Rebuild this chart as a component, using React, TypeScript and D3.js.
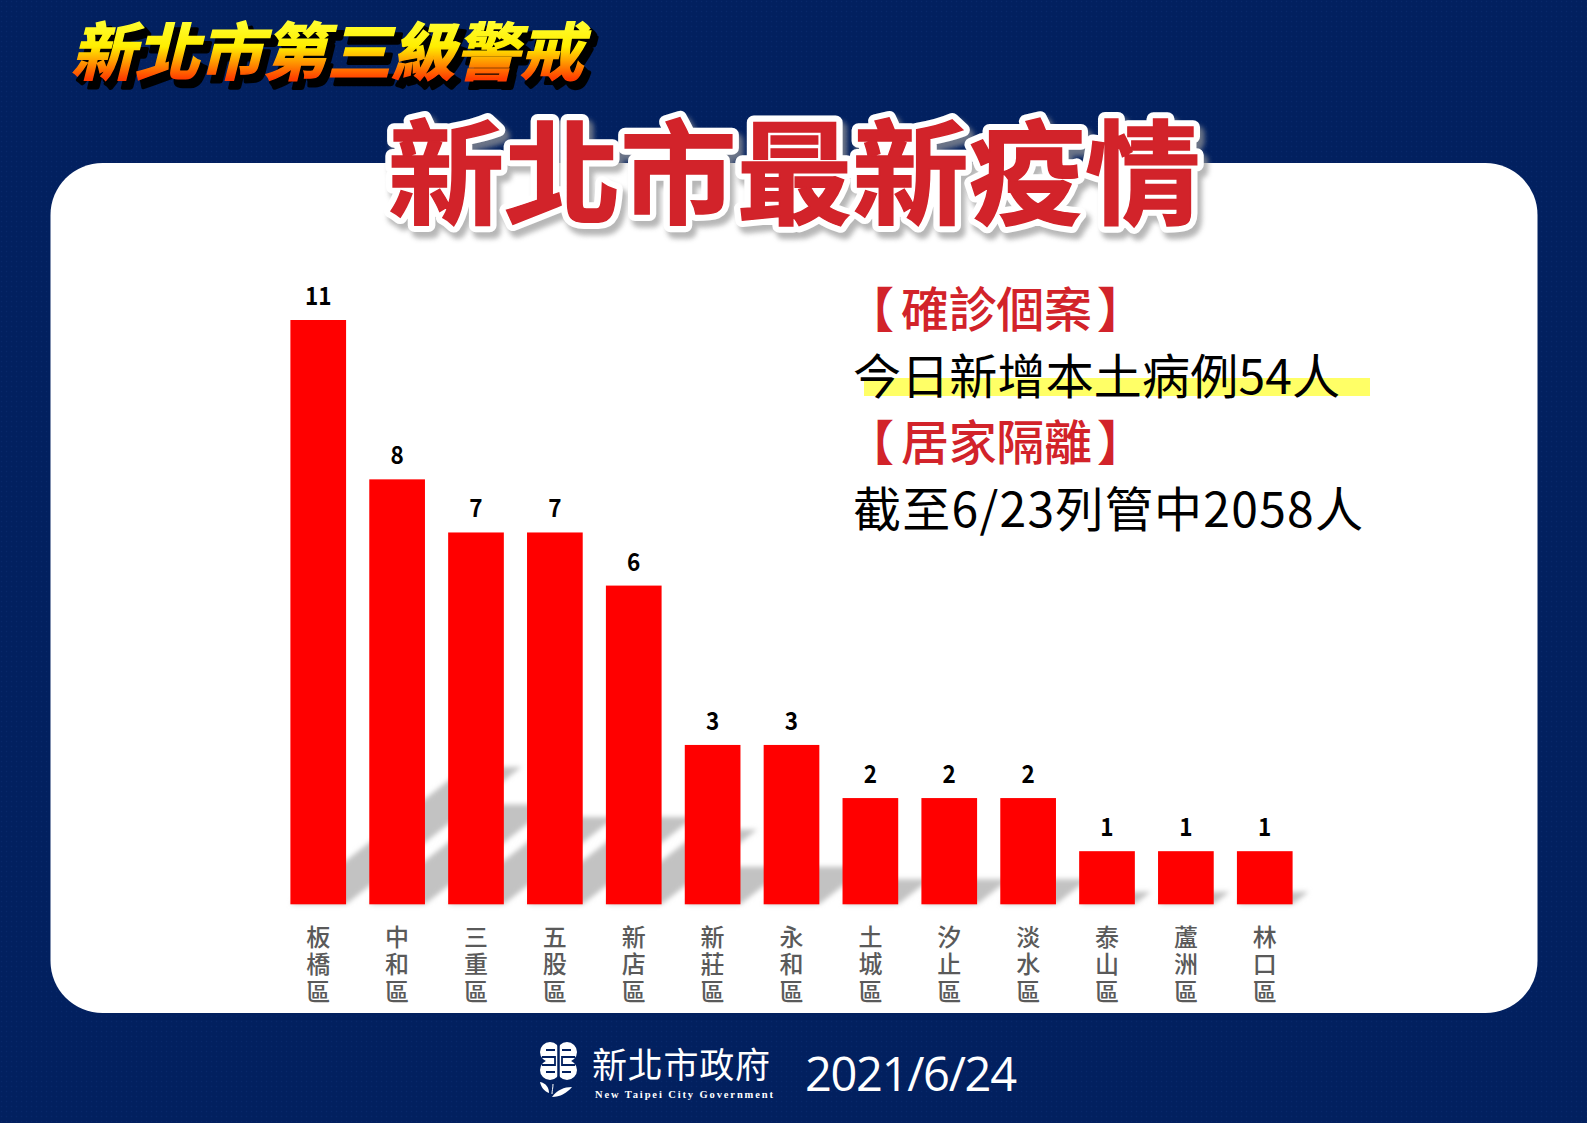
import React from "react";
import * as d3 from "d3";

const categories = ["板橋區","中和區","三重區","五股區","新店區","新莊區","永和區","土城區","汐止區","淡水區","泰山區","蘆洲區","林口區"];
const cases = [11,8,7,7,6,3,3,2,2,2,1,1,1];
const bannerTitle = "新北市第三級警戒";
const mainTitle = "新北市最新疫情";
const infoHeadA = "確診個案";
const infoLineA = "今日新增本土病例54人";
const infoHeadB = "居家隔離";
const infoLineB = "截至6/23列管中2058人";
const footerDate = "2021/6/24";
const orgName = "新北市政府";
const orgNameEn = "New Taipei City Government";

const W = 1587, H = 1123;
const FONT = "'Noto Sans CJK TC', 'Noto Sans', sans-serif";
const NAVY = "#02205f";
const RED = "#d2232a";

const x = d3.scaleBand<string>().domain(categories).range([290.4, 1292.6]).paddingInner(0.294).paddingOuter(0);
const y = d3.scaleLinear().domain([0, 11]).range([904.3, 320]);

const shadowLine = d3.line();
function shadowPath(cat: string, v: number) {
  const h = y(0) - y(v);
  const l = x(cat)!, r = l + x.bandwidth();
  const topY = y(0) - h * 0.235, dx = h * 0.3;
  return shadowLine([[l, y(0)], [r, y(0)], [r + dx, topY], [l + dx, topY]])! + "Z";
}

export default function App() {
  return (
    <svg width={W} height={H} viewBox={`0 0 ${W} ${H}`} style={{ position: "absolute", left: 0, top: 0, display: "block" }} fontFamily={FONT}>
      <defs>
        <pattern id="dots" width="5" height="5" patternUnits="userSpaceOnUse">
          <rect width="5" height="5" fill={NAVY} />
          <circle cx="1.5" cy="1.5" r="0.7" fill="#08286a" />
        </pattern>
        <linearGradient id="fire" gradientUnits="userSpaceOnUse" x1="0" y1="-56" x2="0" y2="4">
          <stop offset="0" stopColor="#ffff33" />
          <stop offset="0.45" stopColor="#ffee00" />
          <stop offset="1" stopColor="#ff3c00" />
        </linearGradient>
        <filter id="soft" x="-20%" y="-20%" width="140%" height="140%"><feGaussianBlur stdDeviation="2.4" /></filter>
        <filter id="titleShadow" x="-5%" y="-10%" width="110%" height="125%"><feGaussianBlur stdDeviation="2.5" /></filter>
      </defs>

      <rect width={W} height={H} fill="url(#dots)" />
      <rect x={50.5} y={163} width={1487} height={850} rx={52} fill="#ffffff" />

      <g transform="translate(71,75) skewX(-14) scale(1,0.98)" fontSize={64} fontWeight={700}>
        <text x={7} y={7} fill="#000" stroke="#000" strokeWidth={5} strokeLinejoin="round">{bannerTitle}</text>
        <text fill="url(#fire)" stroke="url(#fire)" strokeWidth={1.5}>{bannerTitle}</text>
      </g>

      <g transform="translate(388,215) scale(1.01,0.98)" fontSize={115} fontWeight={700}>
        <text x={4} y={6} fill="#999" stroke="#999" strokeWidth={15} strokeLinejoin="round" filter="url(#titleShadow)" opacity={0.7}>{mainTitle}</text>
        <text fill={RED} stroke="#fff" strokeWidth={14} strokeLinejoin="round" paintOrder="stroke">{mainTitle}</text>
        <text fill={RED} stroke={RED} strokeWidth={1.5}>{mainTitle}</text>
      </g>

      <g filter="url(#soft)" fill="#c2c2c2">
        {categories.map((c, i) => <path key={c} d={shadowPath(c, cases[i])} />)}
      </g>

      {categories.map((c, i) => {
        const cx = x(c)! + x.bandwidth() / 2;
        return (
          <g key={c}>
            <rect x={x(c)} y={y(cases[i])} width={x.bandwidth()} height={y(0) - y(cases[i])} fill="#ff0000" />
            <text transform={`translate(${cx},${y(cases[i]) - 15}) scale(0.9,1)`} textAnchor="middle" fontSize={25} fontWeight={700} fill="#000">{cases[i]}</text>
            {Array.from(c).map((ch, k) => (
              <text key={k} x={cx} y={946 + k * 27.4} textAnchor="middle" fontSize={24} fontWeight={500} fill="#5a5a5a">{ch}</text>
            ))}
          </g>
        );
      })}

      <rect x={864} y={378} width={506} height={18} fill="#ffff66" />
      <g fontSize={48}>
        <g fill={RED} fontWeight={500}>
          <text x={846} y={327} fontWeight={700}>【</text>
          <text x={901} y={327} textLength={191}>{infoHeadA}</text>
          <text x={1097} y={327} fontWeight={700}>】</text>
          <text x={846} y={460} fontWeight={700}>【</text>
          <text x={901} y={460} textLength={191}>{infoHeadB}</text>
          <text x={1097} y={460} fontWeight={700}>】</text>
        </g>
        <text x={853} y={394} fill="#000" textLength={487}>{infoLineA}</text>
        <text x={853} y={527} fill="#000" textLength={510}>{infoLineB}</text>
      </g>

      <g fill="#fff" stroke="none">
        <circle cx={550} cy={1052} r={10} />
        <circle cx={567} cy={1052} r={10} />
        <circle cx={550} cy={1070} r={10} />
        <circle cx={567} cy={1070} r={10} />
        <rect x={546} y={1050} width={25} height={22} />
        <g fill="none" stroke={NAVY} strokeWidth={1.8}>
          <path d="M558.5 1041 V1082" strokeWidth={2.5} />
          <path d="M542 1057 H555 V1065 H542 M575 1057 H562 V1065 H575" />
          <path d="M546 1050 H555 M562 1050 H571 M546 1072 H555 M562 1072 H571" />
        </g>
        <path d="M540 1082 C546 1083 549 1088 549 1093 C544 1091 541 1087 540 1082 Z" />
        <path d="M553 1084 C553 1088 552 1091 552 1094" fill="none" stroke="#fff" strokeWidth={1} />
        <path d="M552 1097 C557 1090 564 1087 572 1087 C567 1093 560 1097 552 1097 Z" />
        <text x={592} y={1078} fontSize={35} fontWeight={400} textLength={178}>{orgName}</text>
        <text x={595} y={1098} fontSize={10.5} fontWeight={700} fontFamily="'Liberation Serif', serif" textLength={178}>{orgNameEn}</text>
        <text x={805} y={1091} fontSize={47} fontFamily="'Open Sans', sans-serif" textLength={212}>{footerDate}</text>
      </g>
    </svg>
  );
}
